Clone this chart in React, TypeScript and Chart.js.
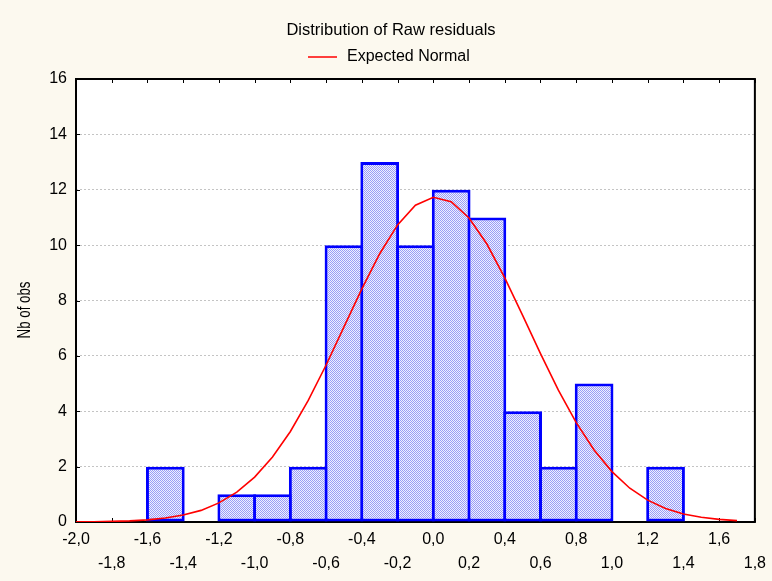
import { useEffect, useRef } from 'react';
import { Chart, registerables } from 'chart.js';

Chart.register(...registerables);

// Histogram of raw residuals: bin centres (width 0.2) and counts
const binCenters = [-1.5, -1.1, -0.9, -0.7, -0.5, -0.3, -0.1, 0.1, 0.3, 0.5, 0.7, 0.9, 1.3];
const binCounts = [2, 1, 1, 2, 10, 13, 10, 12, 11, 4, 2, 5, 2];

// Expected normal curve (scaled to counts)
const curveX = [
  -2.0, -1.9, -1.8, -1.7, -1.6, -1.5, -1.4, -1.3, -1.2, -1.1, -1.0, -0.9, -0.8, -0.7, -0.6, -0.5,
  -0.4, -0.3, -0.2, -0.1, 0.0, 0.1, 0.2, 0.3, 0.4, 0.5, 0.6, 0.7, 0.8, 0.9, 1.0, 1.1, 1.2, 1.3,
  1.4, 1.5, 1.6, 1.7,
];
const curveY = [
  0.005, 0.01, 0.021, 0.041, 0.078, 0.142, 0.25, 0.42, 0.69, 1.08, 1.62, 2.35, 3.27, 4.39, 5.67,
  7.05, 8.42, 9.69, 10.73, 11.44, 11.73, 11.57, 10.98, 10.04, 8.82, 7.46, 6.08, 4.76, 3.59, 2.6,
  1.82, 1.22, 0.79, 0.49, 0.29, 0.17, 0.094, 0.05,
];

const xTickValues = [
  -2.0, -1.8, -1.6, -1.4, -1.2, -1.0, -0.8, -0.6, -0.4, -0.2, 0.0, 0.2, 0.4, 0.6, 0.8, 1.0, 1.2,
  1.4, 1.6, 1.8,
];
const xTickLabels = [
  '-2,0', '-1,8', '-1,6', '-1,4', '-1,2', '-1,0', '-0,8', '-0,6', '-0,4', '-0,2', '0,0', '0,2',
  '0,4', '0,6', '0,8', '1,0', '1,2', '1,4', '1,6', '1,8',
];
const yTickValues = [0, 2, 4, 6, 8, 10, 12, 14, 16];

const chartTitle = 'Distribution of Raw residuals';
const legendLabel = 'Expected Normal';
const yAxisTitle = 'Nb of obs';

const FONT = "'Liberation Sans', Arial, sans-serif";
const PAGE_BG = '#fcf9ef';

function makeHatch(): CanvasPattern | string {
  const c = document.createElement('canvas');
  c.width = 2;
  c.height = 2;
  const g = c.getContext('2d');
  if (!g) return '#c4c4fc';
  g.fillStyle = '#eef0ff';
  g.fillRect(0, 0, 2, 2);
  g.fillStyle = '#9a9cf6';
  g.fillRect(0, 0, 1, 1);
  g.fillRect(1, 1, 1, 1);
  return g.createPattern(c, 'repeat') || '#c4c4fc';
}

const decorPlugin = {
  id: 'decor',
  beforeDraw(chart: any) {
    const { ctx, chartArea: a } = chart;
    ctx.save();
    ctx.fillStyle = '#ffffff';
    ctx.fillRect(a.left, a.top, a.right - a.left, a.bottom - a.top);
    ctx.restore();
  },
  beforeDatasetsDraw(chart: any) {
    const { ctx, chartArea: a, scales } = chart;
    ctx.save();
    ctx.strokeStyle = '#000000';
    ctx.lineWidth = 1;
    // inner tick marks
    ctx.beginPath();
    for (const v of xTickValues) {
      const px = Math.round(scales.x.getPixelForValue(v)) + 0.5;
      ctx.moveTo(px, a.bottom);
      ctx.lineTo(px, a.bottom - 4);
      ctx.moveTo(px, a.top);
      ctx.lineTo(px, a.top + 4);
    }
    for (const v of yTickValues) {
      const py = Math.round(scales.y.getPixelForValue(v)) + 0.5;
      ctx.moveTo(a.left, py);
      ctx.lineTo(a.left + 4, py);
    }
    ctx.stroke();
    // frame
    ctx.lineWidth = 2;
    ctx.strokeRect(a.left, a.top, a.right - a.left, a.bottom - a.top);
    ctx.restore();
  },
  afterDraw(chart: any) {
    const { ctx } = chart;
    ctx.save();
    ctx.fillStyle = '#000000';
    ctx.font = `16.5px ${FONT}`;
    ctx.textBaseline = 'middle';
    ctx.textAlign = 'center';
    ctx.fillText(chartTitle, 391, 30);
    // legend
    ctx.strokeStyle = '#ff0000';
    ctx.lineWidth = 1.5;
    ctx.beginPath();
    ctx.moveTo(308, 57);
    ctx.lineTo(337, 57);
    ctx.stroke();
    ctx.textAlign = 'left';
    ctx.font = `16px ${FONT}`;
    ctx.fillText(legendLabel, 347, 57);
    // y axis title, condensed
    ctx.translate(25, 310);
    ctx.rotate(-Math.PI / 2);
    ctx.scale(0.7, 1);
    ctx.textAlign = 'center';
    ctx.font = `19px ${FONT}`;
    ctx.fillText(yAxisTitle, 0, 0);
    ctx.restore();
  },
};

export default function App() {
  const ref = useRef<HTMLCanvasElement | null>(null);

  useEffect(() => {
    if (!ref.current) return;
    const hatch = makeHatch();
    const chart = new Chart(ref.current, {
      type: 'bar',
      data: {
        datasets: [
          {
            type: 'line',
            label: legendLabel,
            data: curveX.map((x, i) => ({ x, y: curveY[i] })),
            borderColor: '#ff0000',
            borderWidth: 1.6,
            pointRadius: 0,
            tension: 0,
            fill: false,
            order: 0,
          } as any,
          {
            type: 'bar',
            label: 'Count',
            data: binCenters.map((x, i) => ({ x, y: binCounts[i] })),
            backgroundColor: hatch as any,
            borderColor: '#0000ff',
            borderWidth: 3,
            borderSkipped: false,
            categoryPercentage: 1,
            barPercentage: 1.084,
            order: 1,
          } as any,
        ],
      },
      options: {
        animation: false,
        responsive: false,
        devicePixelRatio: 1,
        layout: { padding: { top: 79, right: 17, left: 0, bottom: 0 } },
        plugins: {
          legend: { display: false },
          title: { display: false },
          tooltip: { enabled: false },
        },
        scales: {
          x: {
            type: 'linear',
            min: -2.0,
            max: 1.8,
            offset: false,
            afterBuildTicks: (scale: any) => {
              scale.ticks = xTickValues.map((value) => ({ value }));
            },
            afterFit: (scale: any) => {
              scale.height = 59;
            },
            grid: { display: false, drawTicks: false },
            border: { display: false },
            ticks: {
              autoSkip: false,
              maxRotation: 0,
              padding: 6,
              color: '#000000',
              font: { family: FONT, size: 16, lineHeight: 1.5 },
              callback: (_v: any, index: number) =>
                index % 2 === 0 ? [xTickLabels[index]] : ['', xTickLabels[index]],
            },
          },
          y: {
            min: 0,
            max: 16,
            afterBuildTicks: (scale: any) => {
              scale.ticks = yTickValues.map((value) => ({ value }));
            },
            afterFit: (scale: any) => {
              scale.width = 76;
            },
            grid: { color: '#c4c4c4', lineWidth: 1, drawTicks: false },
            border: { display: false, dash: [2, 2] },
            ticks: {
              padding: 9,
              color: '#000000',
              font: { family: FONT, size: 16 },
              callback: (v: any) => String(v),
            },
          },
        },
      },
      plugins: [decorPlugin],
    });
    return () => chart.destroy();
  }, []);

  return (
    <div
      style={{
        position: 'fixed',
        left: 0,
        top: 0,
        width: 772,
        height: 581,
        background: PAGE_BG,
      }}
    >
      <canvas ref={ref} width={772} height={581} style={{ display: 'block' }} />
    </div>
  );
}
